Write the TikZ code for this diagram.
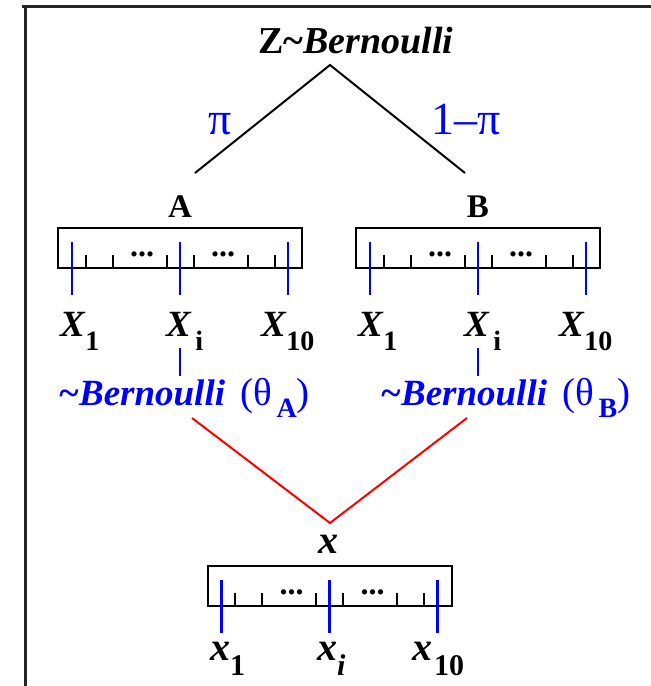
\documentclass[tikz,border=0pt]{standalone}
\usepackage{fontspec}
\setmainfont{Liberation Serif}
\newcommand\fs[1]{\fontsize{#1}{#1}\selectfont}
\newcommand\ruler[3]{%
 \begin{scope}[shift={(#2,#3)}]
  \node[box, minimum width=244pt, minimum height=40pt] (#1) at (0,0) {};
  \foreach \k in {1,3,7,9,13,15} \draw[tickmark] (-108+13.5*\k,7) -- (-108+13.5*\k,20);
  \foreach \k/\n in {0/1,8/i,16/n} \draw[bar] (-108+13.5*\k,-6) coordinate (#1-t\n) -- (-108+13.5*\k,47) coordinate (#1-b\n);
  \node[dots] (#1-d1) at (-38,6) {...};
  \node[dots] (#1-d2) at (43,6) {...};
 \end{scope}}
\begin{document}
\begin{tikzpicture}[x=1pt,y=-1pt,
  frame/.style={line width=3pt, draw=black!85},
  tree/.style={line width=2pt, draw=black},
  mix/.style={line width=2pt, draw=red},
  bar/.style={line width=2.5pt, draw=blue},
  tickmark/.style={line width=2pt, draw=black},
  box/.style={line width=2pt, draw=black, inner sep=0pt},
  dots/.style={inner sep=0pt, font=\fs{32}\bfseries},
  txt/.style={inner sep=0pt, outer sep=0pt, anchor=base},
  lab/.style={inner sep=0pt, outer sep=0pt, anchor=base west},
]
\useasboundingbox (0,0) rectangle (651,686);
\draw[frame] (22,6.5) -- (651,6.5);
\draw[frame] (25.5,5) -- (25.5,686);

% top tree
\node[txt] (title) at (356,53) {\fs{38}\textbf{Z\textasciitilde\textit{Bernoulli}}};
\coordinate (apex) at (330,65);
\coordinate (zl) at (195,173);
\coordinate (zr) at (465,173);
\draw[tree] (zl) -- (apex) -- (zr);
\node[txt, text=blue] (pi) at (220,134) {\fs{46}π};
\node[txt, text=blue] (onepi) at (466,134) {\fs{46}1–π};

\node[txt] (A) at (180,217) {\fs{33}\textbf{A}};
\node[txt] (B) at (478,217) {\fs{33}\textbf{B}};

\ruler{boxA}{180}{248}
\ruler{boxB}{478}{248}

% labels under A and B
\node[lab] (XA1) at (60,336) {\fs{37}\textbf{\textit{X}}\raisebox{-14pt}{\fs{28}\textbf{1}}};
\node[lab] (XAi) at (166,336) {\fs{37}\textbf{\textit{X}}\hspace{4pt}\raisebox{-14pt}{\fs{28}\textbf{i}}};
\node[lab] (XAn) at (261,336) {\fs{37}\textbf{\textit{X}}\raisebox{-14pt}{\fs{28}\textbf{10}}};
\node[lab] (XB1) at (358,336) {\fs{37}\textbf{\textit{X}}\raisebox{-14pt}{\fs{28}\textbf{1}}};
\node[lab] (XBi) at (464,336) {\fs{37}\textbf{\textit{X}}\hspace{4pt}\raisebox{-14pt}{\fs{28}\textbf{i}}};
\node[lab] (XBn) at (559,336) {\fs{37}\textbf{\textit{X}}\raisebox{-14pt}{\fs{28}\textbf{10}}};

\coordinate (sAt) at (180,348);
\coordinate (sAb) at (180,376);
\coordinate (sBt) at (478,348);
\coordinate (sBb) at (478,376);
\draw[bar] (sAt) -- (sAb);
\draw[bar] (sBt) -- (sBb);

\node[lab, text=blue] (bernA) at (58,405) {\fs{37}\textbf{\textit{\textasciitilde Bernoulli}}\hspace{15pt}\fs{39}(θ\hspace{5pt}\raisebox{-12pt}{\fs{28}\textbf{A}})};
\node[lab, text=blue] (bernB) at (380,405) {\fs{37}\textbf{\textit{\textasciitilde Bernoulli}}\hspace{15pt}\fs{39}(θ\hspace{5pt}\raisebox{-12pt}{\fs{28}\textbf{B}})};

% mixture
\coordinate (mixL) at (192,418);
\coordinate (mixApex) at (330,523);
\coordinate (mixR) at (467,418);
\draw[mix] (mixL) -- (mixApex) -- (mixR);

\node[txt] (x) at (328,553) {\fs{40}\textbf{\textit{x}}};
\ruler{boxX}{329.5}{586}

\node[lab] (x1) at (210,660) {\fs{40}\textbf{\textit{x}}\raisebox{-15pt}{\fs{30}\textbf{1}}};
\node[lab] (xi) at (317,660) {\fs{40}\textbf{\textit{x}}\raisebox{-15pt}{\fs{30}\textbf{\textit{i}}}};
\node[lab] (xn) at (412,660) {\fs{40}\textbf{\textit{x}}\hspace{2pt}\raisebox{-15pt}{\fs{30}\textbf{10}}};
\end{tikzpicture}
\end{document}
